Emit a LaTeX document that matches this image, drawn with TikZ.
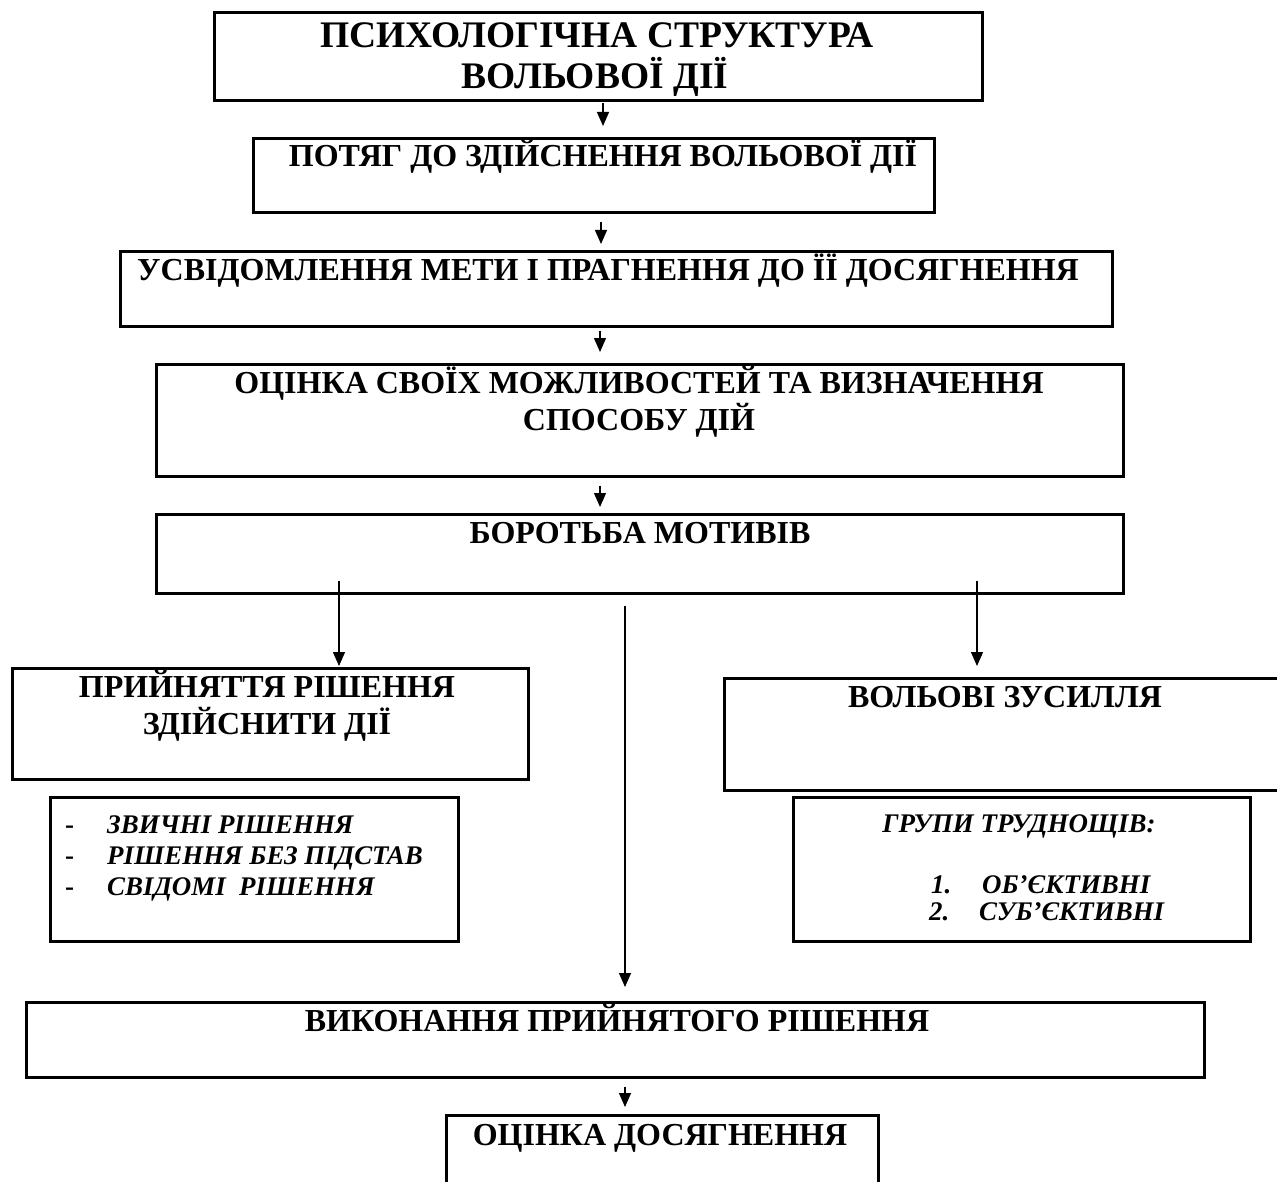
\documentclass[tikz,border=0pt]{standalone}
\usepackage{fontspec}
\setmainfont{Liberation Serif}
\usetikzlibrary{arrows.meta,calc}
\begin{document}
\begin{tikzpicture}[x=1pt,y=-1pt,
  box/.style={draw, line width=2.7pt, inner sep=0pt, anchor=north west},
  arr/.style={line width=1.3pt, -{Triangle[length=14pt,width=12pt]}},
  ttl/.style={font=\fontsize{37.5}{42}\selectfont\bfseries, anchor=base, inner sep=0pt},
  txt/.style={font=\fontsize{32}{37}\selectfont\bfseries, anchor=base, inner sep=0pt},
  itx/.style={font=\fontsize{26.9}{31.5}\selectfont\bfseries\itshape, anchor=base west, inner sep=0pt},
  dsh/.style={font=\fontsize{26.9}{31.5}\selectfont\bfseries, anchor=base west, inner sep=0pt}]
\useasboundingbox (0,0) rectangle (1277,1182);
% boxes
\node[box, minimum width=768pt, minimum height=88pt] (b1) at (213,11) {};
\node[box, minimum width=681pt, minimum height=74pt] (b2) at (252,137) {};
\node[box, minimum width=992pt, minimum height=75pt] (b3) at (119,250) {};
\node[box, minimum width=967pt, minimum height=112pt] (b4) at (155,363) {};
\node[box, minimum width=967pt, minimum height=79pt] (b5) at (155,513) {};
\node[box, minimum width=516pt, minimum height=111pt] (b6) at (11,667) {};
\node[box, minimum width=408pt, minimum height=144pt] (b7) at (49,796) {};
\node[box, minimum width=567pt, minimum height=112pt] (b8) at (723,677) {};
\node[box, minimum width=457pt, minimum height=144pt] (b9) at (792,796) {};
\node[box, minimum width=1178pt, minimum height=75pt] (b10) at (25,1001) {};
\node[box, minimum width=432pt, minimum height=90pt] (b11) at (445,1114) {};
% texts
\node[ttl] (t1a) at (597,48) {ПСИХОЛОГІЧНА СТРУКТУРА};
\node[ttl] (t1b) at (595,89) {ВОЛЬОВОЇ ДІЇ};
\node[txt] (t2) at (603,167) {ПОТЯГ ДО ЗДІЙСНЕННЯ ВОЛЬОВОЇ ДІЇ};
\node[txt] (t3) at (608,281) {УСВІДОМЛЕННЯ МЕТИ І ПРАГНЕННЯ ДО ЇЇ ДОСЯГНЕННЯ};
\node[txt] (t4a) at (639,393) {ОЦІНКА СВОЇХ МОЖЛИВОСТЕЙ ТА ВИЗНАЧЕННЯ};
\node[txt] (t4b) at (639,430) {СПОСОБУ ДІЙ};
\node[txt] (t5) at (640,543) {БОРОТЬБА МОТИВІВ};
\node[txt] (t6a) at (267,697) {ПРИЙНЯТТЯ РІШЕННЯ};
\node[txt] (t6b) at (267,734) {ЗДІЙСНИТИ ДІЇ};
\node[dsh] (d1) at (65,833) {-};
\node[dsh] (d2) at (65,864) {-};
\node[dsh] (d3) at (65,895) {-};
\node[itx] (t7a) at (107,833) {ЗВИЧНІ РІШЕННЯ};
\node[itx] (t7b) at (107,864) {РІШЕННЯ БЕЗ ПІДСТАВ};
\node[itx] (t7c) at (107,895) {СВІДОМІ\ \ РІШЕННЯ};
\node[txt] (t8) at (1005,707) {ВОЛЬОВІ ЗУСИЛЛЯ};
\node[itx, anchor=base] (t9) at (1019,832) {ГРУПИ ТРУДНОЩІВ:};
\node[itx] (n1) at (931,893) {1.};
\node[itx] (t9a) at (982,893) {ОБ’ЄКТИВНІ};
\node[itx] (n2) at (929,920) {2.};
\node[itx] (t9b) at (979,920) {СУБ’ЄКТИВНІ};
\node[txt] (t10) at (617,1031) {ВИКОНАННЯ ПРИЙНЯТОГО РІШЕННЯ};
\node[txt] (t11) at (660,1145) {ОЦІНКА ДОСЯГНЕННЯ};
% arrow columns
\coordinate (c1) at (603,0);
\coordinate (c2) at (601,0);
\coordinate (c3) at (600,0);
\coordinate (cl) at (339,0);
\coordinate (cm) at (625,0);
\coordinate (cr) at (977,0);
% connectors
\draw[arr, shorten <=1pt, shorten >=11pt] (c1 |- b1.south) -- (c1 |- b2.north);
\draw[arr, shorten <=8pt, shorten >=6pt] (c2 |- b2.south) -- (c2 |- b3.north);
\draw[arr, shorten <=3pt, shorten >=11pt] (c3 |- b3.south) -- (c3 |- b4.north);
\draw[arr, shorten <=8pt, shorten >=6pt] (c3 |- b4.south) -- (c3 |- b5.north);
\draw[arr, shorten <=-14pt, shorten >=1pt] (cl |- b5.south) -- (cl |- b6.north);
\draw[arr, shorten <=-14pt, shorten >=11pt] (cr |- b5.south) -- (cr |- b8.north);
\draw[arr, shorten <=11pt, shorten >=14pt] (cm |- b5.south) -- (cm |- b10.north);
\draw[arr, shorten <=8pt, shorten >=7pt] (cm |- b10.south) -- (cm |- b11.north);
\end{tikzpicture}
\end{document}
